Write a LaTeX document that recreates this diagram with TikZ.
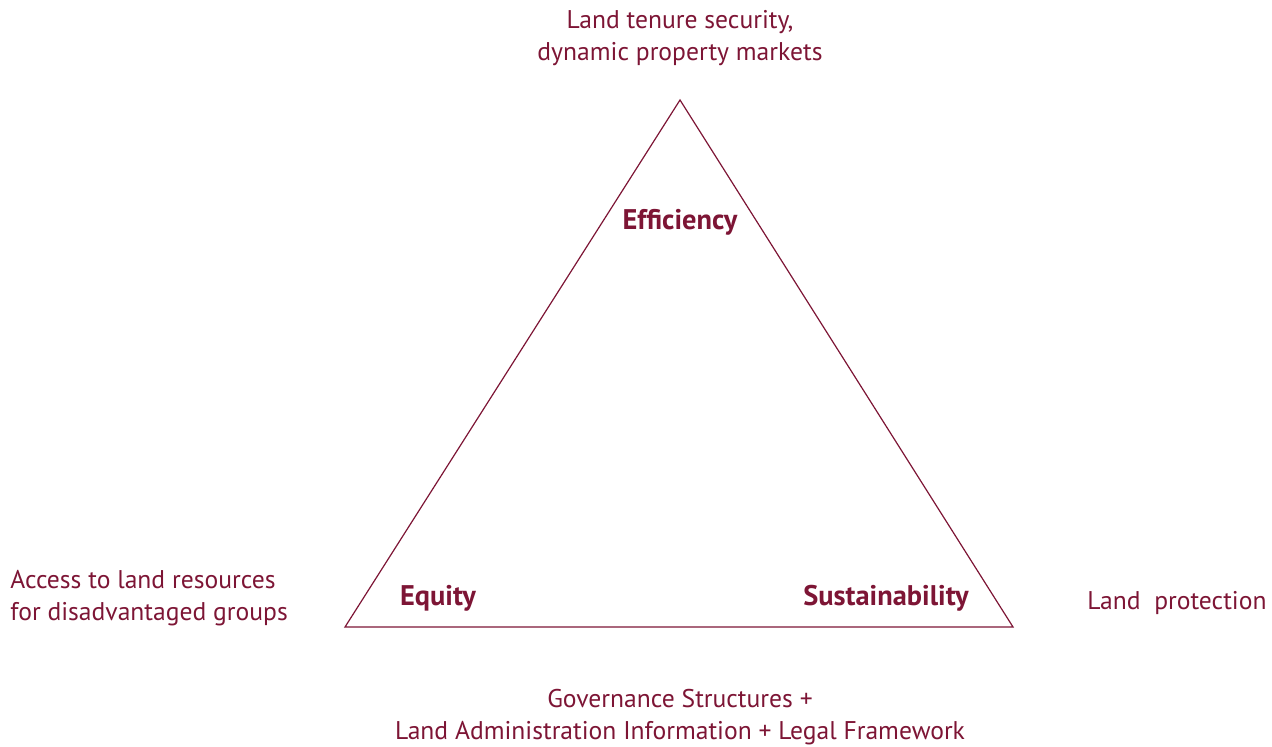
\documentclass[tikz,border=0pt]{standalone}
\usepackage{fontspec}
\setmainfont{PT Sans}
\usepackage{tikz}
\definecolor{maroon}{HTML}{7D1535}

\begin{document}
\begin{tikzpicture}[x=0.5pt,y=-0.5pt,
        text node/.style={text=maroon, font=\fontsize{12.8}{16}\selectfont, inner sep=0pt},
        corner node/.style={text=maroon, font=\fontsize{14.2}{17}\selectfont\bfseries, inner sep=0pt}
        ]

        \useasboundingbox (0,0) rectangle (1272,747);

        \coordinate (top) at (680,100) ;
        \coordinate (left) at (345,627) ;
        \coordinate (right) at (1013,627) ;

        \draw [maroon, line width=0.6pt, line join=miter] (top) -- (left) -- (right) -- cycle ;

        \node [corner node] (eff) at (680,222) {Efficiency} ;
        \node [corner node] (equ) at (438,598) {Equity} ;
        \node [corner node] (sus) at (886,598) {Sustainability} ;

        \node [text node, align=center] (tenure) at (680,38) {Land tenure security,\\dynamic property markets} ;
        \node [text node, align=left, anchor=west] (access) at (10,598) {Access to land resources\\for disadvantaged groups} ;
        \node [text node, anchor=west] (protect) at (1087,603) {Land\ \ protection} ;
        \node [text node, align=center] (gov) at (680,717) {Governance Structures +\\Land Administration Information + Legal Framework} ;
     \end{tikzpicture}
\end{document}
